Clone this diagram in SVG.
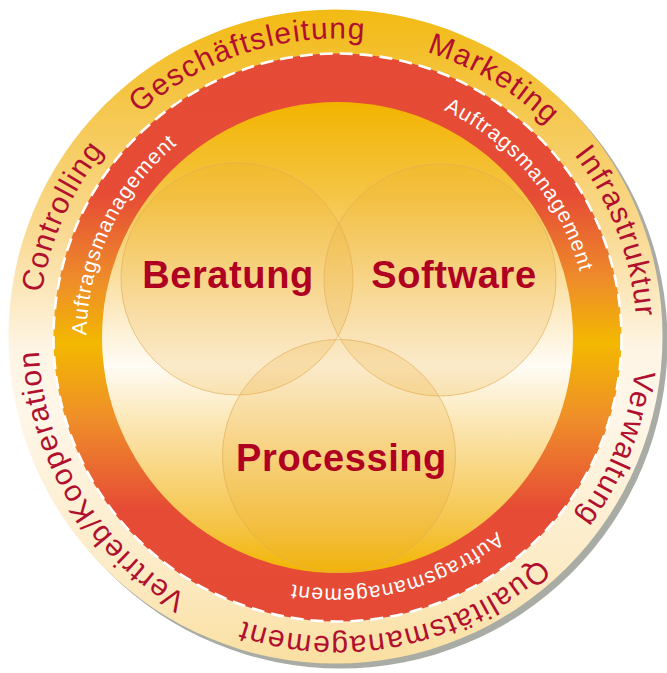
<svg xmlns="http://www.w3.org/2000/svg" width="667" height="673" viewBox="0 0 667 673">
<style>
  .lbl { font-family: "Liberation Sans", Arial, Helvetica, sans-serif; }
  .outer { font-size: 30px; fill: #B10F2E; letter-spacing: 1.3px; }
  .ring { font-size: 21px; fill: #FFFFFF; letter-spacing: 1px; }
  .core { font-size: 38px; font-weight: bold; fill: #AF0022; letter-spacing: 0.6px; text-anchor: middle; }
  .venn { fill: #EFAC30; fill-opacity: 0.22; stroke: #E2AC58; stroke-opacity: 0.65; stroke-width: 1; }
</style>
<defs>
  <linearGradient id="gOuter" gradientUnits="userSpaceOnUse" x1="0" y1="9" x2="0" y2="664">
    <stop offset="0" stop-color="#F2BA12"/>
    <stop offset="0.15" stop-color="#F5C74C"/>
    <stop offset="0.35" stop-color="#FADB96"/>
    <stop offset="0.52" stop-color="#FEF5E5"/>
    <stop offset="0.62" stop-color="#FEF6E8"/>
    <stop offset="0.85" stop-color="#FCEBC6"/>
    <stop offset="1" stop-color="#FADFA0"/>
  </linearGradient>
  <linearGradient id="gRing" gradientUnits="userSpaceOnUse" x1="0" y1="53" x2="0" y2="622">
    <stop offset="0" stop-color="#E54A36"/>
    <stop offset="0.25" stop-color="#E64C35"/>
    <stop offset="0.4" stop-color="#EE8D2A"/>
    <stop offset="0.51" stop-color="#F3B800"/>
    <stop offset="0.64" stop-color="#EF8F29"/>
    <stop offset="0.8" stop-color="#E64C35"/>
    <stop offset="1" stop-color="#E54A36"/>
  </linearGradient>
  <linearGradient id="gDisc" gradientUnits="userSpaceOnUse" x1="0" y1="102" x2="0" y2="573">
    <stop offset="0" stop-color="#F2B400"/>
    <stop offset="0.2" stop-color="#F5C546"/>
    <stop offset="0.45" stop-color="#FCEBC6"/>
    <stop offset="0.56" stop-color="#FFFCF5"/>
    <stop offset="0.7" stop-color="#FBE3AA"/>
    <stop offset="0.9" stop-color="#F5C446"/>
    <stop offset="1" stop-color="#F2B500"/>
  </linearGradient>
  <path id="pOuter" d="M 636.5 337.5 A 299 299 0 1 1 38.5 337.5 A 299 299 0 1 1 636.5 337.5 A 299 299 0 1 1 38.5 337.5 A 299 299 0 1 1 636.5 337.5"/>
  <path id="pRing" d="M 588.5 337.5 A 251 251 0 1 1 86.5 337.5 A 251 251 0 1 1 588.5 337.5 A 251 251 0 1 1 86.5 337.5 A 251 251 0 1 1 588.5 337.5"/>
</defs>

<g id="background">
  <circle cx="340.5" cy="341.5" r="327" fill="#A9ACA4"/>
  <circle cx="335.5" cy="336.5" r="327" fill="url(#gOuter)"/>
  <circle cx="337.5" cy="337.5" r="284" fill="url(#gRing)"/>
  <circle cx="337.5" cy="337.5" r="235.5" fill="url(#gDisc)"/>
  <circle cx="337.5" cy="337.5" r="284" fill="none" stroke="#FFFFFF" stroke-width="2.6" stroke-dasharray="13 7"/>
</g>

<g id="outer-labels" class="lbl outer">
  <text id="lbl-controlling"><textPath href="#pOuter" startOffset="1062.7" text-anchor="middle">Controlling</textPath></text>
  <text id="lbl-geschaeftsleitung"><textPath href="#pOuter" startOffset="1314" text-anchor="middle">Geschäftsleitung</textPath></text>
  <text id="lbl-marketing"><textPath href="#pOuter" startOffset="1570.8" text-anchor="middle">Marketing</textPath></text>
  <text id="lbl-infrastruktur"><textPath href="#pOuter" startOffset="1769.6" text-anchor="middle">Infrastruktur</textPath></text>
  <text id="lbl-verwaltung"><textPath href="#pOuter" startOffset="1991.4" text-anchor="middle">Verwaltung</textPath></text>
  <text id="lbl-qualitaet"><textPath href="#pOuter" startOffset="407.6" text-anchor="middle">Qualitätsmanagement</textPath></text>
  <text id="lbl-vertrieb"><textPath href="#pOuter" startOffset="776.8" text-anchor="middle">Vertrieb/Kooperation</textPath></text>
</g>

<g id="ring-labels" class="lbl ring">
  <text id="ring-left"><textPath href="#pRing" startOffset="899.8" text-anchor="middle">Auftragsmanagement</textPath></text>
  <text id="ring-right"><textPath href="#pRing" startOffset="1401.4" text-anchor="middle">Auftragsmanagement</textPath></text>
  <text id="ring-bottom"><textPath href="#pRing" startOffset="331" text-anchor="middle">Auftragsmanagement</textPath></text>
</g>

<g id="node-beratung">
  <circle class="venn" cx="237" cy="279" r="116"/>
</g>
<g id="node-software">
  <circle class="venn" cx="440" cy="280" r="116"/>
</g>
<g id="node-processing">
  <circle class="venn" cx="339" cy="456" r="116.5"/>
</g>
<g id="core-labels" class="lbl core">
  <text x="228" y="288">Beratung</text>
  <text x="454" y="288">Software</text>
  <text x="341.5" y="471">Processing</text>
</g>
</svg>
